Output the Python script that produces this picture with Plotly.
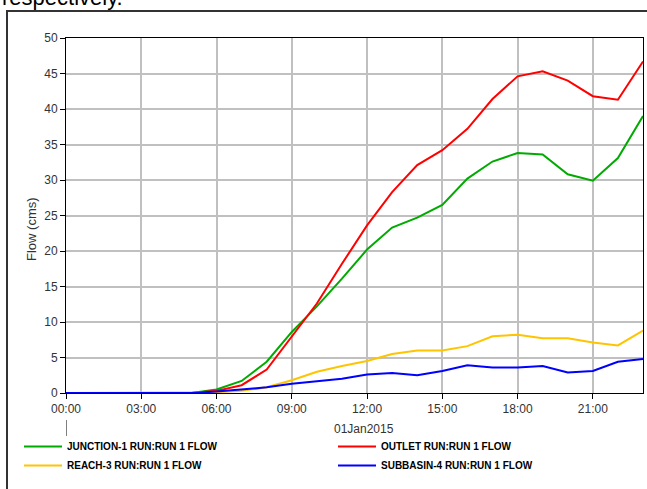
import plotly.graph_objects as go

# ---- data ----
times = [f"2015-01-01 {h:02d}:00" for h in range(24)]
junction_1 = [0, 0, 0, 0, 0, 0, 0.5, 1.7, 4.4, 8.6, 12.2, 16.1, 20.2, 23.3, 24.7, 26.5,
              30.2, 32.6, 33.8, 33.6, 30.8, 29.9, 33.1, 39.0]
outlet = [0, 0, 0, 0, 0, 0, 0.3, 1.1, 3.3, 7.9, 12.6, 18.2, 23.6, 28.3, 32.1, 34.2,
          37.2, 41.4, 44.6, 45.3, 44.0, 41.8, 41.3, 46.7]
reach_3 = [0, 0, 0, 0, 0, 0, 0.1, 0.3, 0.8, 1.8, 3.0, 3.8, 4.5, 5.5, 6.0, 6.0,
           6.6, 8.0, 8.2, 7.7, 7.7, 7.1, 6.7, 8.8]
subbasin_4 = [0, 0, 0, 0, 0, 0, 0.2, 0.5, 0.8, 1.3, 1.6, 2.0, 2.6, 2.8, 2.5, 3.1,
              3.9, 3.6, 3.6, 3.8, 2.9, 3.1, 4.4, 4.8]
series_names = ["JUNCTION-1 RUN:RUN 1 FLOW", "OUTLET RUN:RUN 1 FLOW",
                "REACH-3 RUN:RUN 1 FLOW", "SUBBASIN-4 RUN:RUN 1 FLOW"]
series_values = [junction_1, outlet, reach_3, subbasin_4]
colors = ["#00aa00", "#ff0000", "#ffc400", "#0000ff"]
y_title = "Flow (cms)"
date_label = "01Jan2015"

W, H = 647, 489
ML, MR, MT, MB = 66, 4, 38, 96
PW, PH = W - ML - MR, H - MT - MB

def px_x(p):
    return (p - ML) / PW

def px_y(p):
    return (H - MB - p) / PH

FONT = "Arial, Liberation Sans, sans-serif"
ITEMW = 38

fig = go.Figure()
for name, vals, c in zip(series_names, series_values, colors):
    fig.add_trace(go.Scatter(x=times, y=vals, mode="lines", name=name,
                             line=dict(color=c, width=2)))

axis_common = dict(
    showgrid=True, gridcolor="#c0c0c0", gridwidth=2,
    showline=True, linecolor="black", linewidth=1, mirror=True,
    ticks="outside", ticklen=5, tickcolor="black", tickwidth=1,
    tickfont=dict(family=FONT, size=12, color="#333333"),
    zeroline=False,
)

fig.update_layout(
    width=W, height=H,
    margin=dict(l=ML, r=MR, t=MT, b=MB),
    paper_bgcolor="white", plot_bgcolor="white",
    font=dict(family=FONT, color="black"),
    xaxis=dict(type="date", range=[times[0], times[-1]], tickformat="%H:%M",
               tick0=times[0], dtick=3 * 3600 * 1000, **axis_common),
    yaxis=dict(range=[0, 50], dtick=5, **axis_common),
    showlegend=True,
    legend=dict(orientation="h", x=px_x(20), xanchor="left", y=px_y(432), yanchor="top",
                entrywidth=309 - (ITEMW + 10), entrywidthmode="pixels", itemwidth=ITEMW,
                font=dict(family=FONT, size=10, color="black", weight="bold"),
                bgcolor="rgba(0,0,0,0)", tracegroupgap=0),
)

# y-axis title
fig.add_annotation(text=y_title, xref="paper", yref="paper", x=px_x(32), y=px_y(229),
                   textangle=-90, showarrow=False, xanchor="center", yanchor="middle",
                   font=dict(family=FONT, size=13, color="#333333"))
# date label under axis
fig.add_annotation(text=date_label, xref="x", yref="paper", x=times[12], y=px_y(429),
                   xshift=-3, showarrow=False, xanchor="center", yanchor="middle",
                   font=dict(family=FONT, size=12, color="#333333"))
# day-boundary tick
fig.add_shape(type="line", xref="x", yref="paper", x0=times[0], x1=times[0],
              y0=px_y(420), y1=px_y(436), line=dict(color="black", width=1))
# outer frame
fig.add_shape(type="rect", xref="paper", yref="paper", x0=px_x(7), x1=px_x(670),
              y0=px_y(510), y1=px_y(11), line=dict(color="#333333", width=2),
              layer="below")
# cropped document text at top
fig.add_annotation(text="respectively.", xref="paper", yref="paper", x=px_x(0), y=px_y(12),
                   xanchor="left", yanchor="bottom", showarrow=False,
                   font=dict(family=FONT, size=22, color="black"))

fig.write_html("out.html", config={"displayModeBar": False},
               post_script="document.body.style.margin='0';")
